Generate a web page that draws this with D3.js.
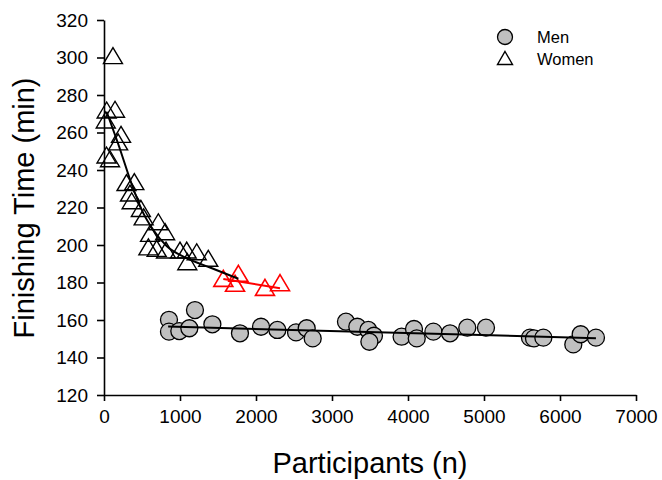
<!DOCTYPE html>
<html>
<head>
<meta charset="utf-8">
<script src="https://cdn.jsdelivr.net/npm/d3@7"></script>
<style>
    body { margin: 0; background: #fff; }
    svg text { font-family: "Liberation Sans", Arial, sans-serif; fill: #000; }
    .asse path, .asse line { stroke: #000; stroke-width: 1.6px; }
    .asse text { font-size: 19px; }
</style>
</head>
<body>
<script>
"use strict"
/* values */
const womenN = [118, 35, 145, 23, 224, 186, 33, 79, 296, 399, 342, 364, 485, 522, 715, 606, 804, 584, 693, 816, 1000, 1088, 1220, 1096, 1372];
const womenTime = [301, 272, 272.4, 266.7, 259, 255, 248, 246, 233.3, 233.8, 227.7, 223.6, 219.5, 215, 212.4, 206.2, 207.1, 199, 198.2, 197.3, 197.3, 197.3, 196.4, 191.1, 192.9];
const womenRedN = [1570, 1768, 1724, 2118, 2316];
const womenRedTime = [182.2, 184.9, 179.6, 177.4, 179.9];
const menN = [855, 855, 991, 1123, 1197, 1426, 1789, 2066, 2281, 2527, 2667, 2746, 3184, 3333, 3478, 3552, 3492, 3916, 4079, 4115, 4334, 4553, 4780, 5026, 5605, 5658, 5781, 6175, 6272, 6473];
const menTime = [160.1, 153.8, 154.1, 155.6, 165.3, 157.7, 152.9, 156.4, 154.7, 153.4, 155.6, 150.2, 159.1, 156.4, 154.7, 151.6, 148.4, 151.1, 155.2, 150.2, 153.8, 152.9, 155.9, 155.9, 150.6, 150.2, 150.6, 147, 152.4, 150.6];
/* trend lines, points */
const womenFitN = [35, 186, 386, 517, 649, 824, 1088, 1395, 1768];
const womenFitTime = [271, 254, 230, 217, 208, 199.5, 193, 188, 182];
const womenRedFitN = [1570, 2316];
const womenRedFitTime = [181.9, 176.9];
const menFitN = [844, 6473];
const menFitTime = [156.5, 150.3];
const xTicks = [0, 1000, 2000, 3000, 4000, 5000, 6000, 7000];
const yTicks = [120, 140, 160, 180, 200, 220, 240, 260, 280, 300, 320];

const grafico = { larghezza: 662, altezza: 480 };
const area = { sinistra: 104, destra: 636, alto: 20, basso: 395 };

const svg = d3.select("body")
    .append("svg")
    .attr("width", grafico.larghezza)
    .attr("height", grafico.altezza);

const scalaX = d3.scaleLinear().domain([0, 7000]).range([area.sinistra, area.destra]);
const scalaY = d3.scaleLinear().domain([120, 320]).range([area.basso, area.alto]);

/* triangle marker, open, centred on its bounding box */
const triW = 19, triH = 16;
const triangolo = `M0,${-triH / 2}L${triW / 2},${triH / 2}L${-triW / 2},${triH / 2}Z`;

function punti(xs, ys) { return xs.map(function (n, i) { return [n, ys[i]] }) }

const linea = d3.line()
    .x(function (d) { return scalaX(d[0]) })
    .y(function (d) { return scalaY(d[1]) });

/* men circles, then the fit line over them */
svg.append("g").selectAll("circle")
    .data(punti(menN, menTime))
    .enter()
    .append("circle")
    .attr("cx", function (d) { return scalaX(d[0]) })
    .attr("cy", function (d) { return scalaY(d[1]) })
    .attr("r", 8.5)
    .attr("fill", "#c0c0c0")
    .attr("stroke", "#000")
    .attr("stroke-width", 1.3);

svg.append("path")
    .datum(punti(menFitN, menFitTime))
    .attr("d", linea)
    .attr("fill", "none")
    .attr("stroke", "#000")
    .attr("stroke-width", 2);

/* women triangles */
svg.append("g").selectAll("path")
    .data(punti(womenN, womenTime))
    .enter()
    .append("path")
    .attr("d", triangolo)
    .attr("transform", function (d) { return `translate(${scalaX(d[0])},${scalaY(d[1])})` })
    .attr("fill", "none")
    .attr("stroke", "#000")
    .attr("stroke-width", 1.4);

svg.append("g").selectAll("path")
    .data(punti(womenRedN, womenRedTime))
    .enter()
    .append("path")
    .attr("d", triangolo)
    .attr("transform", function (d) { return `translate(${scalaX(d[0])},${scalaY(d[1])})` })
    .attr("fill", "none")
    .attr("stroke", "#ff0000")
    .attr("stroke-width", 1.6);

svg.append("path")
    .datum(punti(womenFitN, womenFitTime))
    .attr("d", linea.curve(d3.curveMonotoneX))
    .attr("fill", "none")
    .attr("stroke", "#000")
    .attr("stroke-width", 2);

svg.append("path")
    .datum(punti(womenRedFitN, womenRedFitTime))
    .attr("d", linea.curve(d3.curveLinear))
    .attr("fill", "none")
    .attr("stroke", "#ff0000")
    .attr("stroke-width", 2);

/* axes */
const asseX = d3.axisBottom(scalaX).tickValues(xTicks).tickFormat(d3.format("d"))
    .tickSizeInner(6).tickSizeOuter(0).tickPadding(9);
svg.append("g")
    .attr("class", "asse")
    .attr("transform", `translate(0,${area.basso})`)
    .call(asseX);

const asseY = d3.axisLeft(scalaY).tickValues(yTicks).tickFormat(d3.format("d"))
    .tickSizeInner(7).tickSizeOuter(0).tickPadding(9);
svg.append("g")
    .attr("class", "asse")
    .attr("transform", `translate(${area.sinistra},0)`)
    .call(asseY);

/* axis titles */
svg.append("text")
    .attr("x", (area.sinistra + area.destra) / 2)
    .attr("y", 473)
    .attr("text-anchor", "middle")
    .attr("font-size", "29px")
    .text("Participants (n)");

svg.append("text")
    .attr("transform", `translate(34,208) rotate(-90)`)
    .attr("text-anchor", "middle")
    .attr("font-size", "29px")
    .text("Finishing Time (min)");

/* legend */
const legenda = svg.append("g");
legenda.append("circle")
    .attr("cx", 505).attr("cy", 37).attr("r", 7.5)
    .attr("fill", "#c0c0c0").attr("stroke", "#000").attr("stroke-width", 1.3);
legenda.append("path")
    .attr("d", `M0,-6.5L7.5,6.5L-7.5,6.5Z`)
    .attr("transform", "translate(505,58)")
    .attr("fill", "none").attr("stroke", "#000").attr("stroke-width", 1.4);
legenda.append("text").attr("x", 537).attr("y", 43).attr("font-size", "16.5px").text("Men");
legenda.append("text").attr("x", 537).attr("y", 65).attr("font-size", "16.5px").text("Women");
</script>
</body>
</html>
